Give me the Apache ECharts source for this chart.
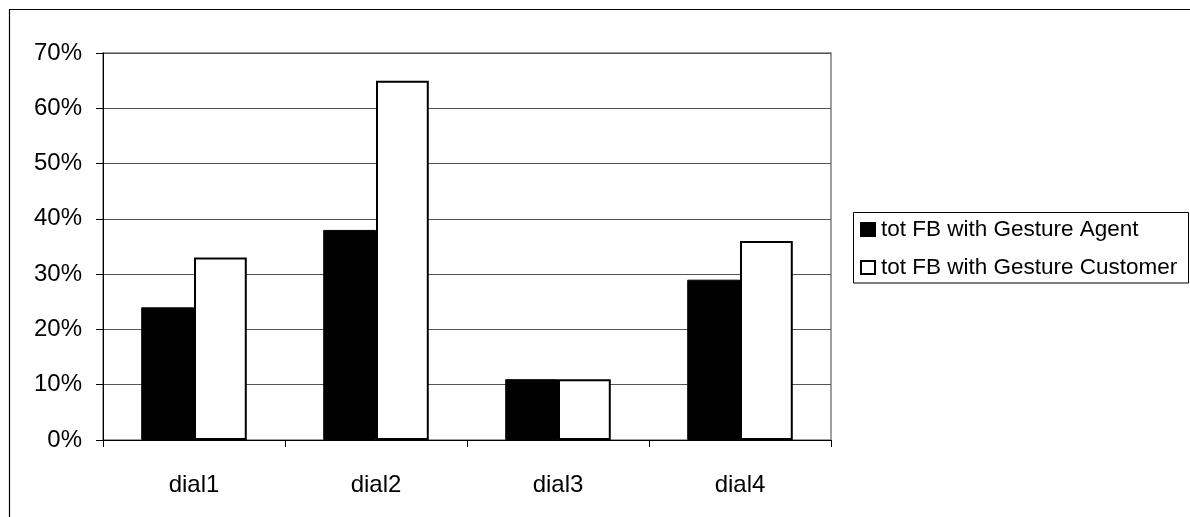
<!DOCTYPE html>
<html>
<head>
<meta charset="utf-8">
<script src="https://cdn.jsdelivr.net/npm/echarts@6/dist/echarts.min.js"></script>
<style>
html,body{margin:0;padding:0;background:#fff;}
#c{width:1190px;height:517px;}
</style>
</head>
<body>
<div id="c"></div>
<script>
const categories = ['dial1', 'dial2', 'dial3', 'dial4'];
const agentValues = [24, 38, 11, 29];
const customerValues = [33, 65, 11, 36];
const seriesNames = ['tot FB with Gesture Agent', 'tot FB with Gesture Customer'];
const yTicks = [0, 10, 20, 30, 40, 50, 60, 70];

const chart = echarts.init(document.getElementById('c'), null, {renderer: 'canvas'});
const font = 'Liberation Sans, Arial, sans-serif';
chart.setOption({
  animation: false,
  backgroundColor: '#fff',
  grid: {
    left: 103, top: 53, right: 359, bottom: 77,
    show: true, borderColor: '#808080', borderWidth: 1.5, backgroundColor: 'transparent'
  },
  graphic: [
    {type: 'rect', shape: {x: 9.5, y: 9.5, width: 1300, height: 600},
     style: {fill: 'none', stroke: '#000', lineWidth: 1.2}, z: 100},
    {type: 'rect', shape: {x: 853.5, y: 212.5, width: 335, height: 70.5},
     style: {fill: 'none', stroke: '#000', lineWidth: 1}, z: 100}
  ],
  legend: {
    orient: 'vertical',
    left: 853, top: 212,
    padding: [6, 7, 6, 7],
    itemGap: 15,
    itemWidth: 14, itemHeight: 13,
    icon: 'rect',
    textStyle: {fontFamily: font, fontSize: 22.5, color: '#000', padding: [0, 0, 0, 1]},
    data: seriesNames
  },
  xAxis: {
    type: 'category',
    data: categories,
    axisLine: {lineStyle: {color: '#000', width: 1}},
    axisTick: {show: true, length: 7, lineStyle: {color: '#000'}},
    axisLabel: {fontFamily: font, fontSize: 24, color: '#000', margin: 33}
  },
  yAxis: {
    type: 'value',
    min: 0, max: 70, interval: 10,
    axisLine: {show: true, lineStyle: {color: '#000', width: 1}},
    axisTick: {show: true, length: 7, lineStyle: {color: '#000'}},
    splitLine: {show: true, lineStyle: {color: '#555', width: 1}},
    axisLabel: {fontFamily: font, fontSize: 24, color: '#000', margin: 21,
      formatter: v => yTicks.includes(v) ? v + '%' : ''}
  },
  series: [
    {
      name: seriesNames[0], type: 'bar', data: agentValues,
      barGap: '0%', barCategoryGap: '42%',
      itemStyle: {color: '#000', borderColor: '#000', borderWidth: 1}
    },
    {
      name: seriesNames[1], type: 'bar', data: customerValues,
      barGap: '0%', barCategoryGap: '42%',
      itemStyle: {color: '#fff', borderColor: '#000', borderWidth: 2}
    }
  ]
});
</script>
</body>
</html>
